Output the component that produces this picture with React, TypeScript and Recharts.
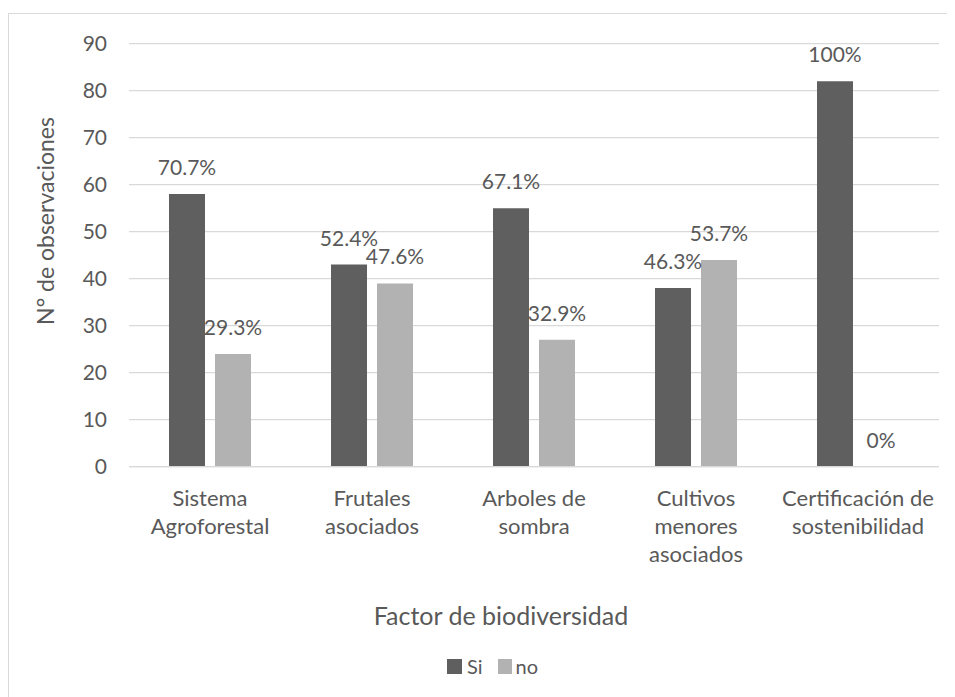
import React from 'react';
import { BarChart, Bar, XAxis, YAxis, CartesianGrid, LabelList, Legend, Label } from 'recharts';

// Biodiversity factors observed on the farms (each category has 82 observations)
const categories: string[][] = [
  ['Sistema', 'Agroforestal'],
  ['Frutales', 'asociados'],
  ['Arboles de', 'sombra'],
  ['Cultivos', 'menores', 'asociados'],
  ['Certificación de', 'sostenibilidad'],
];
const siValues = [58, 43, 55, 38, 82];
const noValues = [24, 39, 27, 44, 0];
const yTicks = [0, 10, 20, 30, 40, 50, 60, 70, 80, 90];

const seriesNames = { si: 'Si', no: 'no' };
const colors = { si: '#5f5f5f', no: '#b2b2b2' };
const TEXT = '#595959';
const FONT = 'Lato, "Noto Sans", sans-serif';

const pct = (v: number, total: number) => {
  const p = (v / total) * 100;
  return Number.isInteger(p) ? `${p}%` : `${p.toFixed(1)}%`;
};

const data = categories.map((lines, i) => {
  const total = siValues[i] + noValues[i];
  return {
    key: lines.join(' '),
    lines,
    si: siValues[i],
    no: noValues[i],
    siLabel: pct(siValues[i], total),
    noLabel: pct(noValues[i], total),
  };
});

const CategoryTick = (props: any) => {
  const { x, y, payload } = props;
  const item = data.find((d) => d.key === payload.value);
  const lines = item ? item.lines : [String(payload.value)];
  return (
    <text x={x} y={y} textAnchor="middle" fill={TEXT} fontSize={22} fontFamily={FONT}>
      {lines.map((ln, i) => (
        <tspan key={i} x={x} dy={i === 0 ? 39 : 28}>
          {ln}
        </tspan>
      ))}
    </text>
  );
};

const LegendContent = () => (
  <div
    style={{
      display: 'flex',
      alignItems: 'center',
      marginLeft: 439,
      fontFamily: FONT,
      fontSize: 20,
      color: TEXT,
      lineHeight: '20px',
    }}
  >
    <span style={{ width: 15, height: 15, background: colors.si, display: 'inline-block', marginRight: 5 }} />
    <span style={{ marginRight: 15 }}>{seriesNames.si}</span>
    <span style={{ width: 14, height: 15, background: colors.no, display: 'inline-block', marginRight: 4 }} />
    <span>{seriesNames.no}</span>
  </div>
);

export default function App() {
  return (
    <div style={{ position: 'relative', width: 947, height: 689, overflow: 'hidden', background: '#fff' }}>
      <div
        style={{
          position: 'absolute',
          left: 0,
          top: 5,
          width: 980,
          height: 720,
          border: '1px solid #d9d9d9',
          boxSizing: 'border-box',
        }}
      />
      <div style={{ position: 'absolute', left: 0, top: 0 }}>
        <BarChart
          width={947}
          height={689}
          data={data}
          margin={{ top: 35.7, right: 16, left: 0, bottom: 190.3 }}
          barSize={36}
          barGap={10}
        >
          <CartesianGrid vertical={false} stroke="#d9d9d9" strokeWidth={1.3} />
          <XAxis
            dataKey="key"
            height={40}
            tickLine={false}
            tickSize={0}
            tickMargin={0}
            axisLine={{ stroke: '#d9d9d9', strokeWidth: 1.3 }}
            tick={<CategoryTick />}
            interval={0}
          >
            <Label
              content={(p: any) => {
                const vb = p.viewBox || { x: 0, y: 0 };
                return (
                  <text x={493} y={vb.y + 158.3} textAnchor="middle" fill={TEXT} fontSize={25} fontFamily={FONT}>
                    Factor de biodiversidad
                  </text>
                );
              }}
            />
          </XAxis>
          <YAxis
            width={121}
            domain={[0, 90]}
            ticks={yTicks}
            interval={0}
            axisLine={false}
            tickLine={false}
            tickSize={0}
            tickMargin={22}
            tick={{ fill: TEXT, fontSize: 21, fontFamily: FONT }}
          >
            <Label
              content={(p: any) => {
                const vb = p.viewBox || { x: 0 };
                const cx = vb.x + 46;
                const cy = 213;
                return (
                  <text
                    x={cx}
                    y={cy}
                    textAnchor="middle"
                    transform={`rotate(-90 ${cx} ${cy})`}
                    fill={TEXT}
                    fontSize={23}
                    fontFamily={FONT}
                  >
                    N° de observaciones
                  </text>
                );
              }}
            />
          </YAxis>
          <Legend
            layout="horizontal"
            verticalAlign="middle"
            align="center"
            content={<LegendContent />}
            wrapperStyle={{ top: 648, left: 0, width: 947, bottom: 'auto' }}
          />
          <Bar dataKey="si" name={seriesNames.si} fill={colors.si} isAnimationActive={false}>
            <LabelList dataKey="siLabel" position="top" offset={19} fill={TEXT} fontSize={21} fontFamily={FONT} />
          </Bar>
          <Bar dataKey="no" name={seriesNames.no} fill={colors.no} minPointSize={0.01} isAnimationActive={false}>
            <LabelList dataKey="noLabel" position="top" offset={19} fill={TEXT} fontSize={21} fontFamily={FONT} />
          </Bar>
        </BarChart>
      </div>
    </div>
  );
}
